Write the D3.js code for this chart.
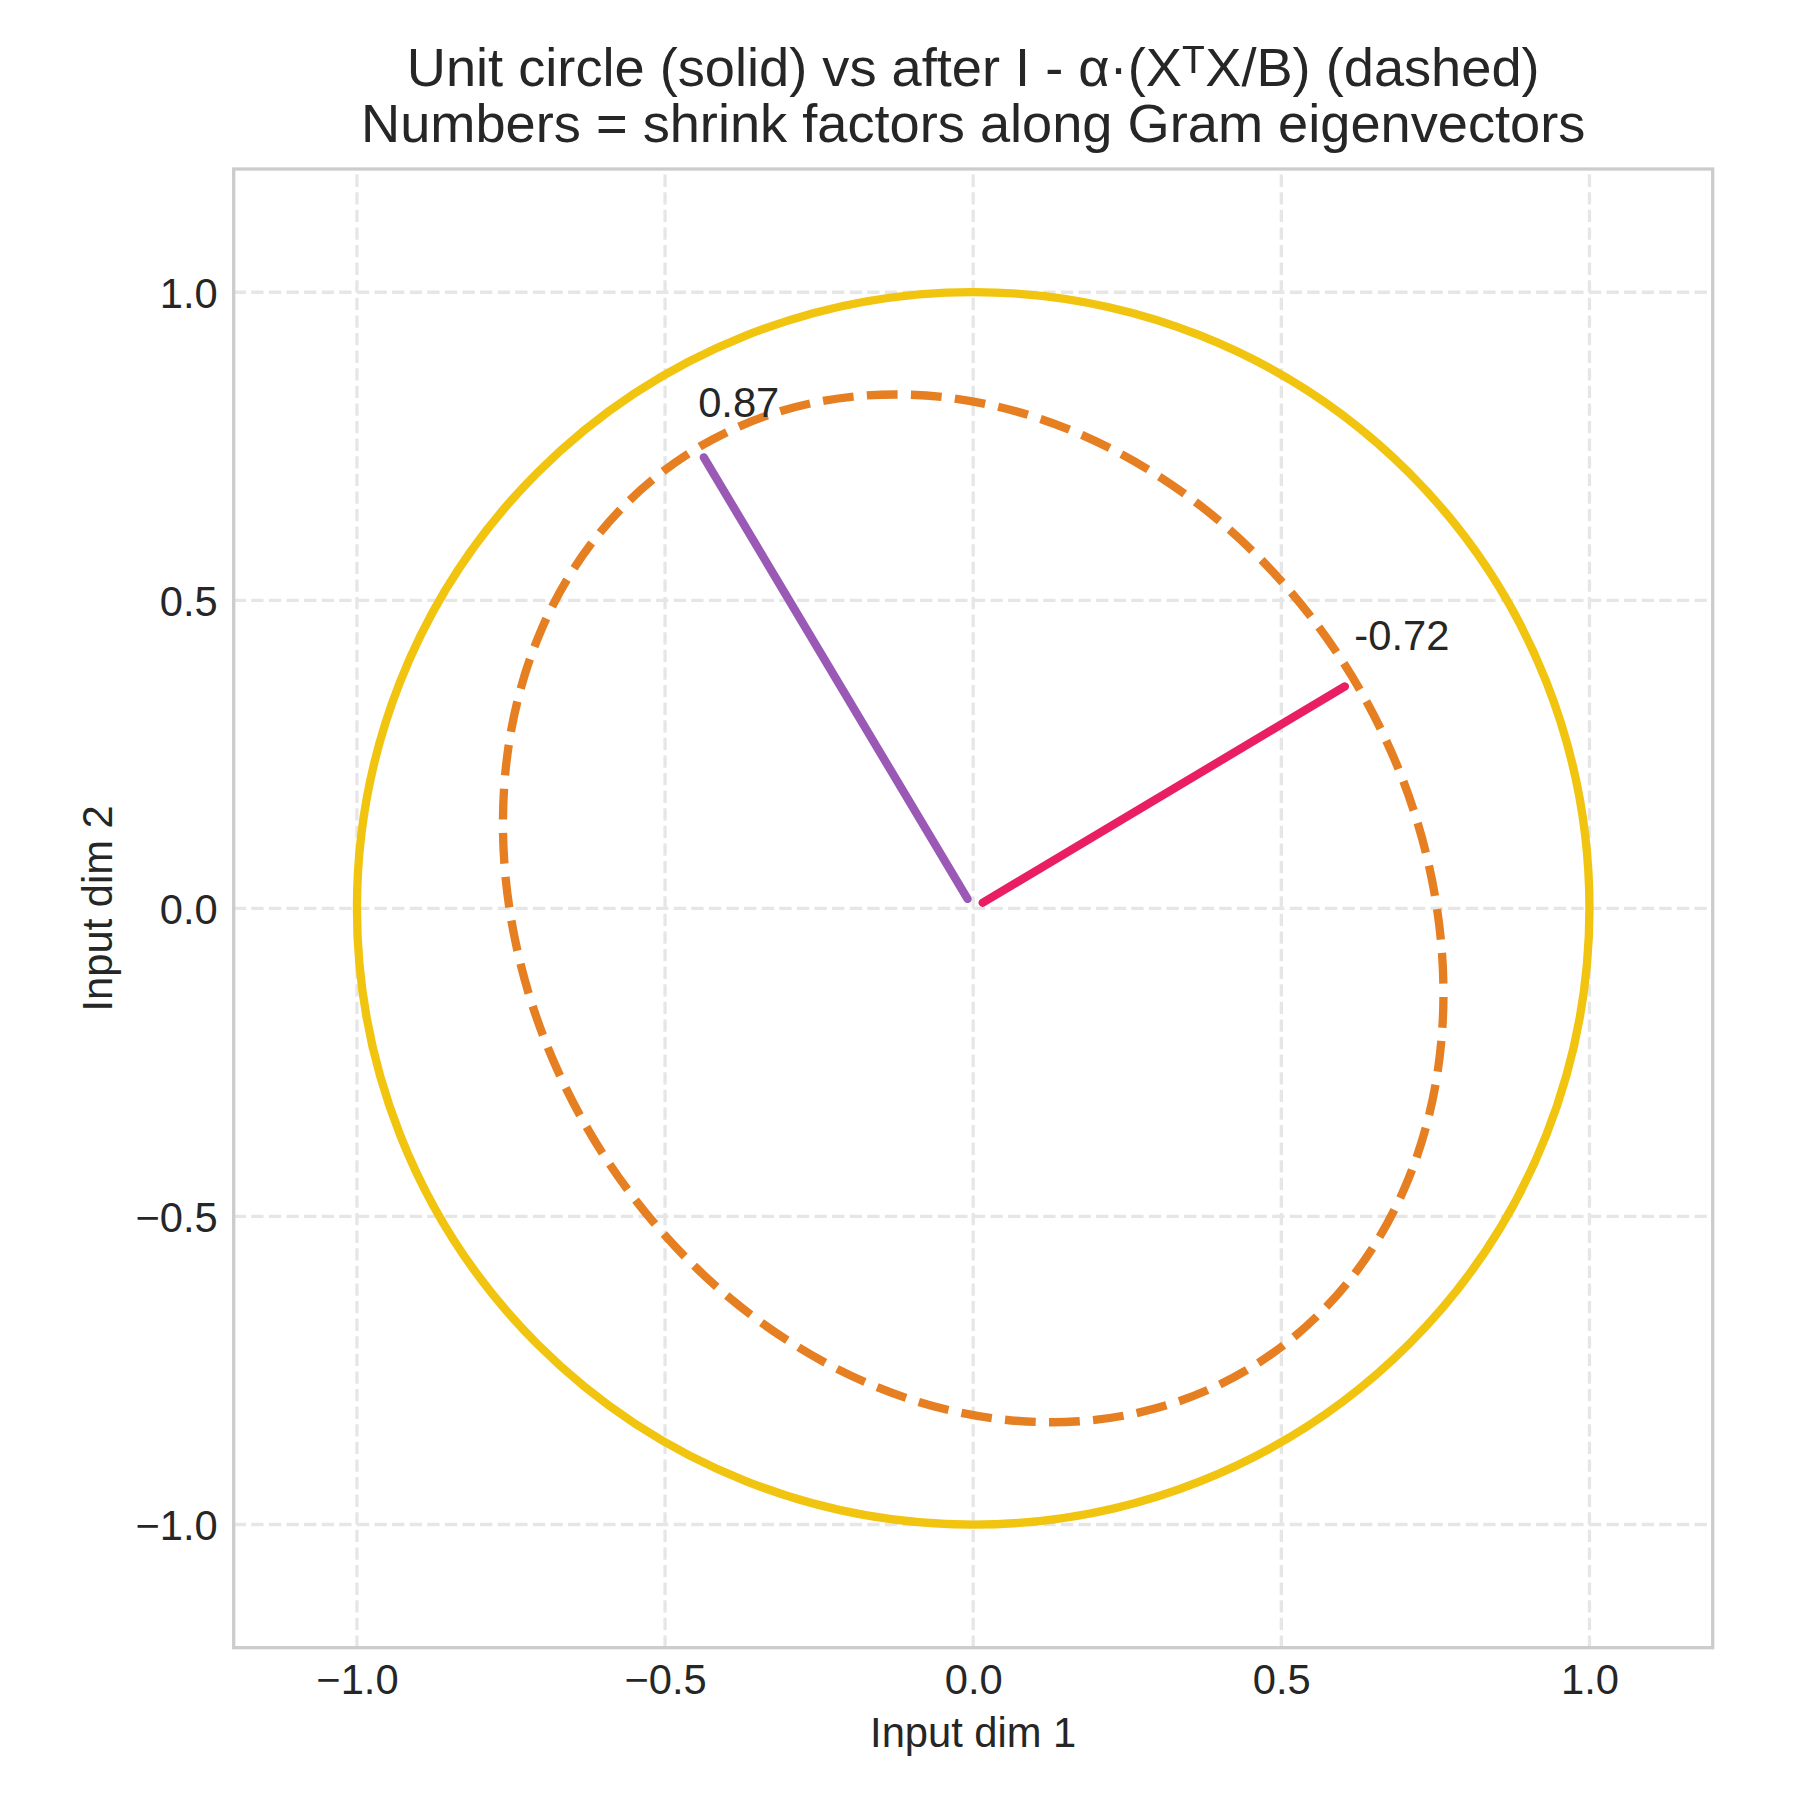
<!DOCTYPE html>
<html lang="en">
  <head>
    <meta charset="utf-8">
    <title>Unit circle vs I - alpha*Gram</title>
    <script src="https://cdn.jsdelivr.net/npm/d3@7/dist/d3.min.js"></script>
    <style type="text/css">
body,html{
    margin: 0;
    padding: 0;
    background: #fff;
  }
text{
    font-family: "Liberation Sans", Arial, "DejaVu Sans", sans-serif;
    fill: #262626;
  }
    </style>
  </head>
  <body>
    <script type="text/javascript">
      // data
      const shrinkFactors = [0.87, -0.72];               // Gram eigen shrink factors
      const eigvecX = [-0.513, 0.859];                   // eigenvector x components
      const eigvecY = [0.859, 0.513];                    // eigenvector y components
      const vecColors = ["#9b59b6", "#e91e63"];
      const tickValues = [-1.0, -0.5, 0.0, 0.5, 1.0];
      const tickLabels = ["\u22121.0", "\u22120.5", "0.0", "0.5", "1.0"];
      const titleLines = ["Unit circle (solid) vs after I - \u03b1\u00b7(X\u1d40X/B) (dashed)",
                          "Numbers = shrink factors along Gram eigenvectors"];

      const w = 1800, h = 1800;
      const margin = {top: 169, left: 233.7, right: 87.3, bottom: 152.3};

      const x = d3.scaleLinear().domain([-1.2, 1.2]).range([margin.left, w - margin.right]);
      const y = d3.scaleLinear().domain([-1.2, 1.2]).range([h - margin.bottom, margin.top]);

      const svg = d3.select("body")
        .append("svg")
        .attr("width", w)
        .attr("height", h);

      // grid
      const grid = svg.append("g");
      grid.selectAll(".vg")
        .data(tickValues)
        .enter().append("line")
        .attr("x1", d => x(d)).attr("x2", d => x(d))
        .attr("y1", y(-1.2)).attr("y2", y(1.2))
        .attr("stroke", "#e6e6e6").attr("stroke-width", 3.3)
        .attr("stroke-dasharray", "12.3,5.3");
      grid.selectAll(".hg")
        .data(tickValues)
        .enter().append("line")
        .attr("y1", d => y(d)).attr("y2", d => y(d))
        .attr("x1", x(-1.2)).attr("x2", x(1.2))
        .attr("stroke", "#e6e6e6").attr("stroke-width", 3.3)
        .attr("stroke-dasharray", "12.3,5.3");

      // axes frame
      svg.append("rect")
        .attr("x", x(-1.2)).attr("y", y(1.2))
        .attr("width", x(1.2) - x(-1.2))
        .attr("height", y(-1.2) - y(1.2))
        .attr("fill", "none")
        .attr("stroke", "#cccccc")
        .attr("stroke-width", 3.3);

      // tick labels
      const fmt = d => tickLabels[tickValues.indexOf(d)];
      const xAxis = svg.append("g")
        .attr("transform", "translate(0," + y(-1.2) + ")")
        .call(d3.axisBottom(x).tickValues(tickValues).tickFormat(fmt).tickSize(0).tickPadding(17));
      const yAxis = svg.append("g")
        .attr("transform", "translate(" + x(-1.2) + ",0)")
        .call(d3.axisLeft(y).tickValues(tickValues).tickFormat(fmt).tickSize(0).tickPadding(16));
      [xAxis, yAxis].forEach(a => {
        a.select(".domain").remove();
        a.attr("font-family", null).attr("font-size", null);
        a.selectAll("text").attr("font-size", 41.7).attr("fill", "#262626");
      });
      yAxis.selectAll("text").attr("dy", "0.36em");

      // unit circle (solid)
      svg.append("circle")
        .attr("cx", x(0)).attr("cy", y(0))
        .attr("r", x(1) - x(0))
        .attr("fill", "none")
        .attr("stroke", "#f1c40f")
        .attr("stroke-width", 8.33);

      // matrix I - a*G built from its eigen pairs
      let M = [[0, 0], [0, 0]];
      for (let i = 0; i < shrinkFactors.length; i++) {
        let v = [eigvecX[i], eigvecY[i]];
        for (let r = 0; r < 2; r++) {
          for (let c = 0; c < 2; c++) {
            M[r][c] += shrinkFactors[i] * v[r] * v[c];
          }
        }
      }
      const k = x(1) - x(0);
      const ky = y(0) - y(1);
      svg.append("g")
        .attr("transform", "matrix(" + [k * M[0][0], -ky * M[1][0], k * M[0][1], -ky * M[1][1], x(0), y(0)].join(",") + ")")
        .append("circle")
        .attr("cx", 0).attr("cy", 0).attr("r", 1)
        .attr("fill", "none")
        .attr("stroke", "#e67e22")
        .attr("stroke-width", 8.33)
        .attr("stroke-dasharray", "30.8,13.3")
        .attr("vector-effect", "non-scaling-stroke");

      // eigenvector segments, shrunk a little at both ends like matplotlib arrows
      const shrink = 11;
      svg.selectAll(".vec")
        .data(shrinkFactors)
        .enter().append("line")
        .each(function(d, i) {
          let x0 = x(0), y0 = y(0);
          let x1 = x(Math.abs(d) * eigvecX[i]), y1 = y(Math.abs(d) * eigvecY[i]);
          let len = Math.hypot(x1 - x0, y1 - y0);
          let ux = (x1 - x0) / len, uy = (y1 - y0) / len;
          d3.select(this)
            .attr("x1", x0 + ux * shrink).attr("y1", y0 + uy * shrink)
            .attr("x2", x1 - ux * shrink).attr("y2", y1 - uy * shrink);
        })
        .attr("stroke", (d, i) => vecColors[i])
        .attr("stroke-width", 8.33)
        .attr("stroke-linecap", "round");

      svg.selectAll(".lab")
        .data(shrinkFactors)
        .enter().append("text")
        .attr("x", (d, i) => x(Math.abs(d) * eigvecX[i]))
        .attr("y", (d, i) => y(Math.abs(d) * eigvecY[i] + 0.05))
        .attr("font-size", 41.7)
        .text(d => d.toFixed(2));

      // axis labels
      svg.append("text")
        .attr("x", x(0)).attr("y", 1746.7)
        .attr("text-anchor", "middle")
        .attr("font-size", 41.7)
        .text("Input dim 1");
      svg.append("text")
        .attr("transform", "translate(112," + y(0) + ") rotate(-90)")
        .attr("text-anchor", "middle")
        .attr("font-size", 41.7)
        .text("Input dim 2");

      // title
      svg.selectAll(".title")
        .data(titleLines)
        .enter().append("text")
        .attr("x", x(0))
        .attr("y", (d, i) => 86 + i * 56)
        .attr("text-anchor", "middle")
        .attr("font-size", 54.2)
        .text(d => d);
    </script>
  </body>
</html>
